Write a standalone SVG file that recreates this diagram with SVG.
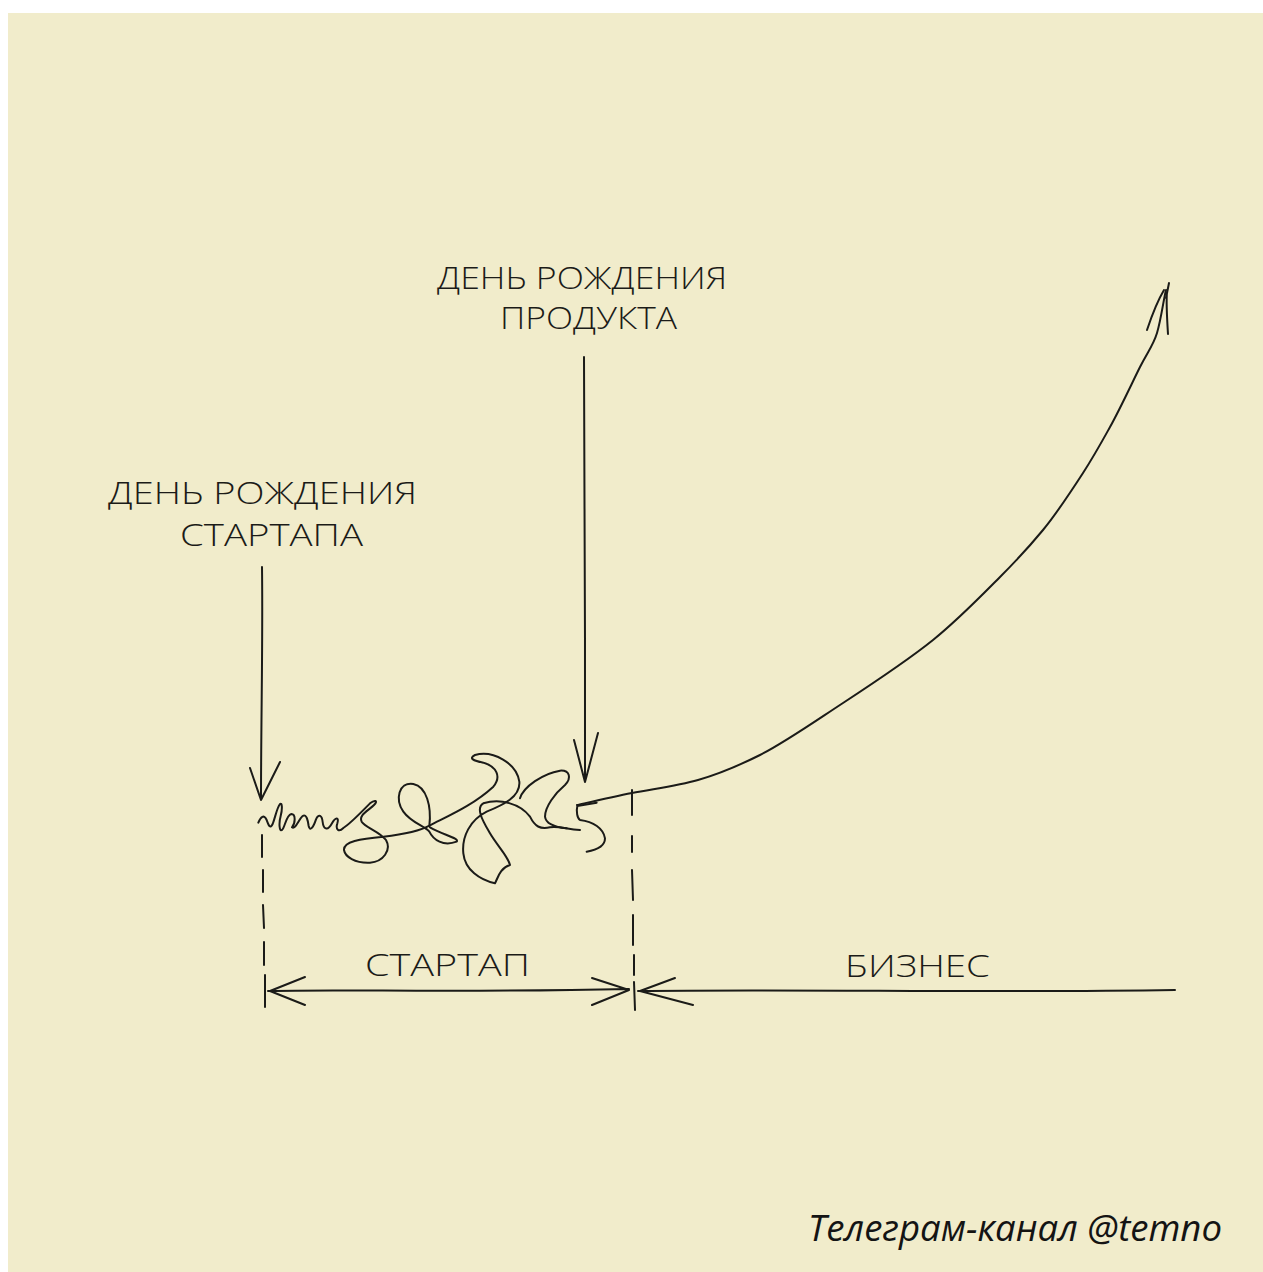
<svg xmlns="http://www.w3.org/2000/svg" width="1263" height="1272" viewBox="0 0 1263 1272">
  <style>
    .ink{fill:none;stroke:#1b1b18;stroke-width:2;stroke-linecap:round;stroke-linejoin:round}
    .hand{font-family:"Open Sans","DejaVu Sans",sans-serif;font-weight:300;fill:#1b1b18;font-size:31px}
    .sig{font-family:"Open Sans","Noto Sans",sans-serif;font-style:italic;fill:#141414;font-size:36px}
  </style>
  <rect x="0" y="0" width="1263" height="1272" fill="#ffffff"/>
  <rect x="8" y="13" width="1255" height="1259" fill="#F1ECCB"/>

  <g id="label-product">
    <text class="hand" x="437" y="289" textLength="290" lengthAdjust="spacingAndGlyphs">ДЕНЬ РОЖДЕНИЯ</text>
    <text class="hand" x="500" y="329" textLength="177" lengthAdjust="spacingAndGlyphs">ПРОДУКТА</text>
  </g>
  <g id="label-startup-birth">
    <text class="hand" x="108" y="504" textLength="309" lengthAdjust="spacingAndGlyphs">ДЕНЬ РОЖДЕНИЯ</text>
    <text class="hand" x="180" y="546" textLength="183" lengthAdjust="spacingAndGlyphs">СТАРТАПА</text>
  </g>
  <g id="label-startup">
    <text class="hand" x="365" y="976" textLength="165" lengthAdjust="spacingAndGlyphs">СТАРТАП</text>
  </g>
  <g id="label-business">
    <text class="hand" x="845" y="977" textLength="145" lengthAdjust="spacingAndGlyphs">БИЗНЕС</text>
  </g>
  <g id="signature">
    <text class="sig" x="808" y="1241" textLength="414" lengthAdjust="spacingAndGlyphs">Телеграм-канал @temno</text>
  </g>

  <g id="scribble">
    <g transform="translate(230 740) scale(0.33333)">
      <path class="ink" style="stroke-width:6" d="M85,248 C92,230 102,222 110,240 C116,256 120,268 128,252 C136,232 140,205 150,192 C156,186 158,205 152,228 C146,250 148,276 156,270 C165,262 168,226 184,222 C198,222 196,250 186,262 C196,270 206,238 218,228 C230,220 234,244 236,258 C240,276 250,262 258,238 C266,220 276,226 278,246 C280,266 292,276 306,250 C316,232 328,230 322,250 C316,268 326,278 340,264 C362,250 395,215 420,190 C435,178 445,182 432,195 C415,212 385,225 395,245 C405,262 450,275 468,300 C485,330 460,365 420,368 C375,370 345,350 342,330 C340,305 390,296 460,290 C530,282 575,270 600,256 C660,225 730,195 790,140 C815,110 800,80 760,68 C730,62 715,55 735,45 C790,30 860,70 868,125 C872,170 820,195 770,215 C720,240 695,290 700,340 C705,390 750,420 795,430 C805,410 810,385 840,375 C835,350 800,315 780,280 C760,245 735,205 760,190 C810,175 870,190 900,230 C915,260 930,268 960,262 C990,258 1010,268 1050,270"/>
      <path class="ink" style="stroke-width:6" d="M598,258 C605,200 590,140 550,132 C505,125 495,180 520,215 C545,250 585,258 598,275 C610,300 640,320 680,305 C690,295 640,285 600,262"/>
      <path class="ink" style="stroke-width:6" d="M870,175 C880,140 940,100 990,92 C1020,90 1025,115 1005,135 C975,160 945,200 945,230 C948,255 980,262 1010,265"/>
      <path class="ink" style="stroke-width:6" d="M1100,188 L1042,198 C1038,215 1042,235 1050,240 C1090,245 1120,265 1125,295 C1125,320 1100,330 1070,335"/>
    </g>
  </g>

  <g id="growth-curve">
    <path class="ink" d="M577,805 C586,803 612,797 632,793 C652,789 677,786 698,780 C719,774 736,767 760,755 C784,743 814,722 843,703 C872,684 907,661 933,640 C959,619 982,595 1000,577 C1018,559 1029,547 1043,530 C1057,513 1072,490 1083,473 C1094,456 1100,445 1110,427 C1120,409 1132,383 1140,367 C1148,351 1153,346 1157,333 C1161,320 1164,297 1166,290"/>
    <path class="ink" d="M1147,330 C1152,315 1158,300 1164,290 M1168,334 C1167,318 1166,303 1167,292 M1169,283 L1166,298"/>
  </g>

  <g id="connectors">
    <path class="ink" d="M262,567 C263,640 261,720 261,800 M250,768 L261,800 L280,762"/>
    <path class="ink" d="M584,357 C583,480 586,640 585,782 M574,740 L585,782 L598,733"/>
    <path class="ink" d="M262,835 L262,857 M263,870 L263,892 M263,905 L264,928 M264,942 L264,965 M265,975 L265,1007"/>
    <path class="ink" d="M632,790 L632,815 M632,836 L632,852 M632,870 L633,900 M633,915 L633,945 M634,955 L634,975 M634,982 L635,1010"/>
    <path class="ink" d="M268,991 C350,989 450,993 629,989 M305,977 L270,991 L305,1005 M592,978 L629,990 L592,1005"/>
    <path class="ink" d="M638,991 C800,989 1000,993 1175,990 M675,978 L640,991 L693,1005"/>
  </g>
</svg>
